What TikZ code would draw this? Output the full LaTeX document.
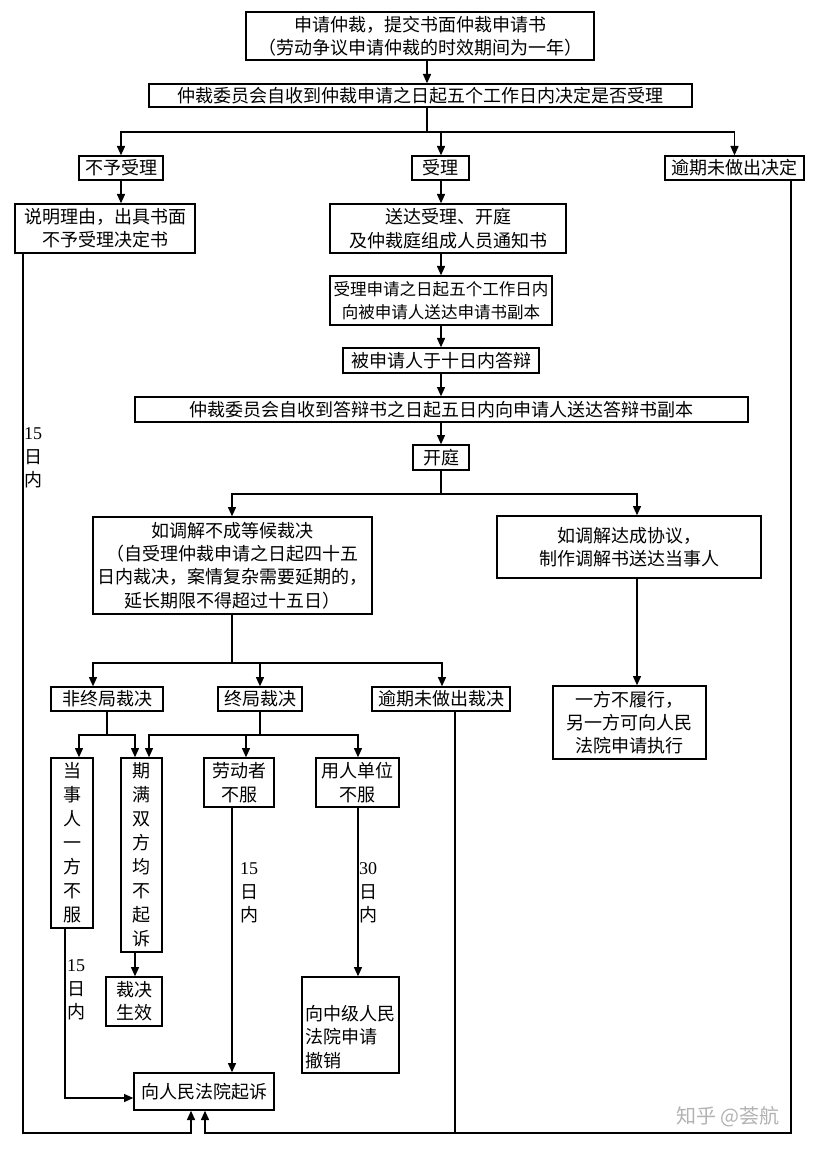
\documentclass[tikz,border=0pt]{standalone}
\usepackage{fontspec}
\setmainfont{Liberation Serif}
\newfontfamily\cjk{Noto Sans CJK SC}
\usetikzlibrary{arrows.meta,fit}
\begin{document}
\begin{tikzpicture}[x=0.75pt,y=-0.75pt,
  box/.style={draw,line width=1pt,inner sep=0pt},
  txt/.style={inner sep=0pt,align=center,
    font=\cjk\fontsize{13.5pt}{17.5pt}\selectfont},
  vtxt/.style={txt,font=\cjk\fontsize{13.5pt}{18pt}\selectfont},
  ln/.style={line width=1.1pt},
  arr/.style={ln,-{Triangle[length=7pt,width=6pt]}},
  lbl/.style={inner sep=0pt,align=center,font=\cjk\fontsize{13.5pt}{17.5pt}\selectfont},
  wmark/.style={inner sep=0pt,text=black!30,font=\cjk\fontsize{15pt}{18pt}\selectfont}]
\useasboundingbox (0,0) rectangle (813,1151);
% helper coordinates
\coordinate (x23) at (23,0);   \coordinate (x65) at (65,0);
\coordinate (x79) at (79,0);   \coordinate (x93) at (93,0);
\coordinate (x107) at (107,0); \coordinate (x135) at (135,0);
\coordinate (x149) at (149,0); \coordinate (x191) at (191,0);
\coordinate (x205) at (205,0); \coordinate (x232) at (232,0);
\coordinate (x246) at (246,0); \coordinate (x260) at (260,0);
\coordinate (x358) at (358,0); \coordinate (x427) at (427,0);
\coordinate (x441) at (441,0); \coordinate (x442) at (442,0);
\coordinate (x455) at (455,0); \coordinate (x637) at (637,0);
\coordinate (x791) at (791,0);
\coordinate (j1) at (427,132);
\coordinate (j2) at (441,494);
\coordinate (j3) at (232,663);
\coordinate (j4) at (107,735);
\coordinate (j5) at (260,735);
\coordinate (c1) at (23,1133);
\coordinate (c2) at (791,1133);
\coordinate (c3) at (65,1098);
% boxes
\node[box,fit={(246,12) (594,60)},label={[txt]center:{申请仲裁，提交书面仲裁申请书\\（劳动争议申请仲裁的时效期间为一年）}}] (n1) {};
\node[box,fit={(149,84) (692,107)},label={[txt]center:仲裁委员会自收到仲裁申请之日起五个工作日内决定是否受理}] (n2) {};
\node[box,fit={(79,156) (163,180)},label={[txt]center:不予受理}] (n3) {};
\node[box,fit={(412,156) (469,180)},label={[txt]center:受理}] (n4) {};
\node[box,fit={(665,156) (804,180)},label={[txt]center:逾期未做出决定}] (n5) {};
\node[box,fit={(15,204) (195,253)},label={[txt]center:{说明理由，出具书面\\不予受理决定书}}] (n6) {};
\node[box,fit={(330,204) (566,253)},label={[txt]center:{送达受理、开庭\\及仲裁庭组成人员通知书}}] (n7) {};
\node[box,fit={(330,276) (552,325)},label={[txt,font=\cjk\fontsize{12.4pt}{17.5pt}\selectfont]center:{受理申请之日起五个工作日内\\向被申请人送达申请书副本}}] (n8) {};
\node[box,fit={(343,348) (539,373)},label={[txt]center:被申请人于十日内答辩}] (n9) {};
\node[box,fit={(135,397) (748,422)},label={[txt]center:仲裁委员会自收到答辩书之日起五日内向申请人送达答辩书副本}] (n10) {};
\node[box,fit={(413,445) (469,470)},label={[txt]center:开庭}] (n11) {};
\node[box,fit={(93,517) (372,614)},label={[txt]center:{如调解不成等候裁决\hspace{2.2em}\\（自受理仲裁申请之日起四十五\\日内裁决，案情复杂需要延期的，\\延长期限不得超过十五日）}}] (n12) {};
\node[box,fit={(497,516) (761,578)},label={[txt]center:{如调解达成协议，\\制作调解书送达当事人}}] (n13) {};
\node[box,fit={(553,686) (706,759)},label={[txt]center:{一方不履行，\\另一方可向人民\\法院申请执行}}] (n14) {};
\node[box,fit={(51,687) (163,711)},label={[txt]center:非终局裁决}] (n15) {};
\node[box,fit={(218,687) (302,711)},label={[txt]center:终局裁决}] (n16) {};
\node[box,fit={(372,687) (510,711)},label={[txt]center:逾期未做出裁决}] (n17) {};
\node[box,fit={(51,758) (93,928)},label={[vtxt]center:{当\\事\\人\\一\\方\\不\\服}}] (n18) {};
\node[box,fit={(121,758) (162,952)},label={[vtxt]center:{期\\满\\双\\方\\均\\不\\起\\诉}}] (n19) {};
\node[box,fit={(204,758) (274,807)},label={[txt]center:{劳动者\\不服}}] (n20) {};
\node[box,fit={(316,758) (399,807)},label={[txt]center:{用人单位\\不服}}] (n21) {};
\node[box,fit={(106,977) (162,1026)},label={[txt]center:{裁决\\生效}}] (n22) {};
\node[box,fit={(302,977) (399,1073)},label={[txt,align=left,yshift=-9pt]center:{向中级人民\\法院申请\\撤销}}] (n23) {};
\node[box,fit={(134,1073) (274,1110)},label={[txt]center:向人民法院起诉}] (n24) {};
% labels
\node[lbl] (l1) at (33,458) {{\rmfamily 15}\\日\\内};
\node[lbl] (l2) at (249,893) {{\rmfamily 15}\\日\\内};
\node[lbl] (l3) at (368,893) {{\rmfamily 30}\\日\\内};
\node[lbl] (l4) at (76,990) {{\rmfamily 15}\\日\\内};
\node[wmark] (wm) at (728,1117) {知乎 @荟航};
% connectors
\draw[arr] (n1.south -| x427) -- (n2.north -| x427);
\draw[ln] (n2.south -| x427) -- (j1);
\draw[arr] (j1) -| (n3.north);
\draw[arr] (j1) -| (n4.north -| x441);
\draw[arr] (j1) -| (n5.north);
\draw[arr] (n3.south) -- (n6.north -| n3.south);
\draw[arr] (n4.south -| x441) -- (n7.north -| x441);
\draw[arr] (n7.south -| x441) -- (n8.north -| x441);
\draw[arr] (n8.south -| x441) -- (n9.north -| x441);
\draw[arr] (n9.south -| x441) -- (n10.north -| x441);
\draw[arr] (n10.south -| x441) -- (n11.north -| x441);
\draw[ln] (n11.south -| x441) -- (j2);
\draw[arr] (j2) -| (n12.north -| x232);
\draw[arr] (j2) -| (n13.north -| x637);
\draw[ln] (n12.south -| x232) -- (j3);
\draw[arr] (j3) -| (n15.north -| x93);
\draw[arr] (j3) -| (n16.north -| x260);
\draw[arr] (j3) -| (n17.north -| x442);
\draw[ln] (n15.south -| x107) -- (j4);
\draw[arr] (j4) -| (n18.north -| x79);
\draw[arr] (j4) -| (n19.north -| x135);
\draw[ln] (n16.south -| x260) -- (j5);
\draw[arr] (j5) -| (n19.north -| x149);
\draw[arr] (j5) -| (n20.north -| x246);
\draw[arr] (j5) -| (n21.north -| x358);
\draw[arr] (n20.south -| x232) -- (n24.north -| x232);
\draw[arr] (n21.south -| x358) -- (n23.north -| x358);
\draw[arr] (n18.south -| x65) -- (c3) -- (n24.west |- c3);
\draw[arr] (n19.south -| x135) -- (n22.north -| x135);
\draw[arr] (n6.south -| x23) -- (c1) -| (n24.south -| x191);
\draw[arr] (n5.south -| x791) -- (c2) -| (n24.south -| x205);
\draw[ln] (n17.south -| x455) -- (c1 -| x455);
\draw[arr] (n13.south -| x637) -- (n14.north -| x637);
\end{tikzpicture}
\end{document}
